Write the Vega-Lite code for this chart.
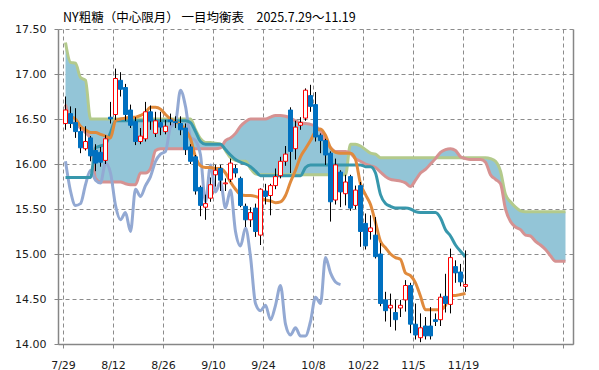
{
  "$schema": "https://vega.github.io/schema/vega-lite/v6.json",
  "width": 515,
  "height": 315,
  "autosize": {"type": "none"},
  "padding": {"left": 58, "top": 29, "right": 26, "bottom": 26},
  "background": "white",
  "config": {"view": {"stroke": null}},
  "title": {"text": "NY粗糖（中心限月）  一目均衡表　2025.7.29～11.19", "anchor": "start", "frame": "group", "dx": 5, "offset": -1, "font": "Noto Sans CJK JP", "fontSize": 12.5, "fontWeight": "normal", "color": "#000000"},
  "datasets": {
    "candles": [
      {"k":0,"o":16.45,"h":16.75,"l":16.38,"c":16.60,"tk":16.55,"kj":15.85,"ck":16.03},
      {"k":1,"o":16.56,"h":16.64,"l":16.40,"c":16.45,"tk":16.53,"kj":15.85,"ck":15.70},
      {"k":2,"o":16.46,"h":16.62,"l":16.29,"c":16.36,"tk":16.50,"kj":15.85,"ck":15.54},
      {"k":3,"o":16.36,"h":16.41,"l":16.12,"c":16.18,"tk":16.42,"kj":15.85,"ck":15.56},
      {"k":4,"o":16.17,"h":16.42,"l":16.15,"c":16.25,"tk":16.38,"kj":15.85,"ck":15.77},
      {"k":5,"o":16.29,"h":16.31,"l":16.03,"c":16.09,"tk":16.35,"kj":15.85,"ck":15.93},
      {"k":6,"o":16.15,"h":16.22,"l":15.92,"c":16.01,"tk":16.35,"kj":16.18,"ck":15.82},
      {"k":7,"o":16.13,"h":16.19,"l":15.97,"c":16.02,"tk":16.33,"kj":16.20,"ck":15.79},
      {"k":8,"o":16.04,"h":16.32,"l":16.00,"c":16.28,"tk":16.31,"kj":16.22,"ck":16.01},
      {"k":9,"o":16.52,"h":16.69,"l":16.45,"c":16.50,"tk":16.29,"kj":16.35,"ck":15.90},
      {"k":10,"o":16.55,"h":17.06,"l":16.49,"c":16.95,"tk":16.48,"kj":16.48,"ck":15.54},
      {"k":11,"o":16.93,"h":17.02,"l":16.75,"c":16.83,"tk":16.50,"kj":16.48,"ck":15.38},
      {"k":12,"o":16.85,"h":16.89,"l":16.48,"c":16.55,"tk":16.51,"kj":16.48,"ck":15.46},
      {"k":13,"o":16.60,"h":16.66,"l":16.40,"c":16.43,"tk":16.52,"kj":16.48,"ck":15.25},
      {"k":14,"o":16.47,"h":16.52,"l":16.21,"c":16.25,"tk":16.52,"kj":16.48,"ck":15.72},
      {"k":15,"o":16.25,"h":16.40,"l":16.22,"c":16.31,"tk":16.54,"kj":16.48,"ck":15.64},
      {"k":16,"o":16.28,"h":16.69,"l":16.25,"c":16.58,"tk":16.57,"kj":16.48,"ck":15.76},
      {"k":17,"o":16.58,"h":16.65,"l":16.38,"c":16.48,"tk":16.63,"kj":16.48,"ck":15.86},
      {"k":18,"o":16.34,"h":16.58,"l":16.30,"c":16.48,"tk":16.63,"kj":16.48,"ck":16.03},
      {"k":19,"o":16.46,"h":16.58,"l":16.32,"c":16.41,"tk":16.61,"kj":16.48,"ck":16.11},
      {"k":20,"o":16.36,"h":16.49,"l":16.33,"c":16.42,"tk":16.55,"kj":16.48,"ck":16.14},
      {"k":21,"o":16.49,"h":16.56,"l":16.43,"c":16.47,"tk":16.50,"kj":16.48,"ck":16.41},
      {"k":22,"o":16.47,"h":16.53,"l":16.40,"c":16.46,"tk":16.47,"kj":16.48,"ck":16.46},
      {"k":23,"o":16.45,"h":16.53,"l":16.32,"c":16.38,"tk":16.44,"kj":16.48,"ck":16.82},
      {"k":24,"o":16.40,"h":16.45,"l":16.10,"c":16.16,"tk":16.38,"kj":16.48,"ck":16.64},
      {"k":25,"o":16.19,"h":16.22,"l":16.00,"c":16.03,"tk":16.28,"kj":16.46,"ck":16.30},
      {"k":26,"o":16.08,"h":16.10,"l":15.66,"c":15.70,"tk":16.08,"kj":16.36,"ck":16.26},
      {"k":27,"o":15.74,"h":15.76,"l":15.42,"c":15.54,"tk":15.98,"kj":16.25,"ck":16.10},
      {"k":28,"o":15.52,"h":15.66,"l":15.38,"c":15.56,"tk":15.96,"kj":16.22,"ck":15.58},
      {"k":29,"o":15.62,"h":15.85,"l":15.58,"c":15.77,"tk":15.96,"kj":16.22,"ck":15.99},
      {"k":30,"o":15.88,"h":15.99,"l":15.75,"c":15.93,"tk":15.95,"kj":16.22,"ck":15.69},
      {"k":31,"o":15.95,"h":15.99,"l":15.70,"c":15.82,"tk":15.95,"kj":16.22,"ck":15.80},
      {"k":32,"o":15.78,"h":15.84,"l":15.70,"c":15.79,"tk":15.90,"kj":16.16,"ck":15.51},
      {"k":33,"o":15.83,"h":16.06,"l":15.80,"c":16.01,"tk":15.80,"kj":16.10,"ck":15.71},
      {"k":34,"o":15.95,"h":15.99,"l":15.85,"c":15.90,"tk":15.72,"kj":16.05,"ck":15.25},
      {"k":35,"o":15.84,"h":15.86,"l":15.52,"c":15.54,"tk":15.66,"kj":16.02,"ck":15.09},
      {"k":36,"o":15.53,"h":15.56,"l":15.30,"c":15.38,"tk":15.65,"kj":16.00,"ck":15.29},
      {"k":37,"o":15.38,"h":15.52,"l":15.30,"c":15.46,"tk":15.65,"kj":15.97,"ck":14.97},
      {"k":38,"o":15.51,"h":15.56,"l":15.19,"c":15.25,"tk":15.64,"kj":15.92,"ck":14.45},
      {"k":39,"o":15.21,"h":15.73,"l":15.10,"c":15.72,"tk":15.62,"kj":15.87,"ck":14.37},
      {"k":40,"o":15.70,"h":15.78,"l":15.55,"c":15.64,"tk":15.60,"kj":15.87,"ck":14.43},
      {"k":41,"o":15.65,"h":15.78,"l":15.43,"c":15.76,"tk":15.59,"kj":15.87,"ck":14.27},
      {"k":42,"o":15.76,"h":15.95,"l":15.72,"c":15.86,"tk":15.57,"kj":15.87,"ck":14.43},
      {"k":43,"o":15.87,"h":16.08,"l":15.84,"c":16.03,"tk":15.58,"kj":15.87,"ck":14.65},
      {"k":44,"o":16.03,"h":16.20,"l":15.98,"c":16.11,"tk":15.65,"kj":15.87,"ck":14.22},
      {"k":45,"o":16.60,"h":16.63,"l":15.90,"c":16.14,"tk":15.80,"kj":15.87,"ck":14.10},
      {"k":46,"o":16.17,"h":16.48,"l":16.05,"c":16.41,"tk":15.93,"kj":15.87,"ck":14.18},
      {"k":47,"o":16.43,"h":16.52,"l":16.38,"c":16.46,"tk":16.08,"kj":15.87,"ck":14.09},
      {"k":48,"o":16.51,"h":16.84,"l":16.48,"c":16.82,"tk":16.17,"kj":15.96,"ck":14.09},
      {"k":49,"o":16.76,"h":16.88,"l":16.58,"c":16.64,"tk":16.26,"kj":15.99,"ck":14.25},
      {"k":50,"o":16.66,"h":16.80,"l":16.25,"c":16.30,"tk":16.36,"kj":15.99,"ck":14.52},
      {"k":51,"o":16.32,"h":16.34,"l":16.12,"c":16.26,"tk":16.39,"kj":15.99,"ck":14.45},
      {"k":52,"o":16.26,"h":16.28,"l":15.99,"c":16.10,"tk":16.32,"kj":15.99,"ck":14.96},
      {"k":53,"o":16.12,"h":16.14,"l":15.36,"c":15.58,"tk":16.18,"kj":15.99,"ck":14.79},
      {"k":54,"o":15.60,"h":16.06,"l":15.55,"c":15.99,"tk":16.13,"kj":15.99,"ck":14.69},
      {"k":55,"o":15.91,"h":15.93,"l":15.52,"c":15.69,"tk":16.12,"kj":15.99,"ck":14.66},
      {"k":56,"o":15.67,"h":15.88,"l":15.54,"c":15.80,"tk":16.12,"kj":15.99,"ck":null},
      {"k":57,"o":15.86,"h":15.88,"l":15.48,"c":15.51,"tk":16.12,"kj":15.99,"ck":null},
      {"k":58,"o":15.54,"h":15.76,"l":15.50,"c":15.71,"tk":16.05,"kj":15.99,"ck":null},
      {"k":59,"o":15.76,"h":15.80,"l":15.08,"c":15.25,"tk":15.78,"kj":15.99,"ck":null},
      {"k":60,"o":15.34,"h":15.45,"l":15.05,"c":15.09,"tk":15.66,"kj":15.97,"ck":null},
      {"k":61,"o":15.25,"h":15.43,"l":15.16,"c":15.29,"tk":15.55,"kj":15.97,"ck":null},
      {"k":62,"o":15.21,"h":15.41,"l":14.95,"c":14.97,"tk":15.35,"kj":15.90,"ck":null},
      {"k":63,"o":15.00,"h":15.12,"l":14.42,"c":14.45,"tk":15.14,"kj":15.66,"ck":null},
      {"k":64,"o":14.49,"h":14.58,"l":14.25,"c":14.37,"tk":15.07,"kj":15.56,"ck":null},
      {"k":65,"o":14.40,"h":14.56,"l":14.19,"c":14.43,"tk":15.00,"kj":15.53,"ck":null},
      {"k":66,"o":14.35,"h":14.49,"l":14.15,"c":14.27,"tk":14.96,"kj":15.51,"ck":null},
      {"k":67,"o":14.40,"h":14.49,"l":14.30,"c":14.43,"tk":14.94,"kj":15.51,"ck":null},
      {"k":68,"o":14.49,"h":14.71,"l":14.36,"c":14.65,"tk":14.79,"kj":15.51,"ck":null},
      {"k":69,"o":14.65,"h":14.68,"l":14.12,"c":14.22,"tk":14.76,"kj":15.50,"ck":null},
      {"k":70,"o":14.22,"h":14.45,"l":14.05,"c":14.10,"tk":14.68,"kj":15.47,"ck":null},
      {"k":71,"o":14.07,"h":14.34,"l":14.02,"c":14.18,"tk":14.53,"kj":15.46,"ck":null},
      {"k":72,"o":14.20,"h":14.30,"l":14.05,"c":14.09,"tk":14.38,"kj":15.46,"ck":null},
      {"k":73,"o":14.20,"h":14.41,"l":14.05,"c":14.09,"tk":14.38,"kj":15.46,"ck":null},
      {"k":74,"o":14.27,"h":14.34,"l":14.20,"c":14.25,"tk":14.38,"kj":15.46,"ck":null},
      {"k":75,"o":14.27,"h":14.56,"l":14.20,"c":14.52,"tk":14.38,"kj":15.40,"ck":null},
      {"k":76,"o":14.53,"h":14.78,"l":14.35,"c":14.45,"tk":14.43,"kj":15.27,"ck":null},
      {"k":77,"o":14.44,"h":15.06,"l":14.34,"c":14.96,"tk":14.54,"kj":15.20,"ck":null},
      {"k":78,"o":14.86,"h":14.93,"l":14.68,"c":14.79,"tk":14.54,"kj":15.10,"ck":null},
      {"k":79,"o":14.80,"h":14.89,"l":14.64,"c":14.69,"tk":14.55,"kj":15.03,"ck":null},
      {"k":80,"o":14.64,"h":15.04,"l":14.58,"c":14.66,"tk":14.56,"kj":14.97,"ck":null}
    ],
    "cloud": [
      {"k":0,"a":16.66,"b":17.35},{"k":1,"a":16.48,"b":17.13},{"k":2,"a":16.44,"b":17.12},{"k":3,"a":16.40,"b":16.96},
      {"k":4,"a":16.35,"b":16.93},{"k":5,"a":16.28,"b":16.50},{"k":6,"a":15.84,"b":16.50},{"k":7,"a":15.80,"b":16.50},
      {"k":8,"a":15.80,"b":16.50},{"k":9,"a":15.80,"b":16.50},{"k":10,"a":15.80,"b":16.50},{"k":11,"a":15.80,"b":16.50},
      {"k":12,"a":15.78,"b":16.50},{"k":13,"a":15.77,"b":16.50},{"k":14,"a":15.77,"b":16.50},{"k":15,"a":15.90,"b":16.50},
      {"k":16,"a":15.90,"b":16.50},{"k":17,"a":15.95,"b":16.50},{"k":18,"a":16.15,"b":16.50},{"k":19,"a":16.17,"b":16.50},
      {"k":20,"a":16.17,"b":16.50},{"k":21,"a":16.17,"b":16.50},{"k":22,"a":16.17,"b":16.50},{"k":23,"a":16.17,"b":16.50},
      {"k":24,"a":16.17,"b":16.50},{"k":25,"a":16.17,"b":16.50},{"k":26,"a":16.17,"b":16.38},{"k":27,"a":16.17,"b":16.28},
      {"k":28,"a":16.17,"b":16.24},{"k":29,"a":16.17,"b":16.24},{"k":30,"a":16.17,"b":16.23},{"k":31,"a":16.18,"b":16.22},
      {"k":32,"a":16.26,"b":16.15},{"k":33,"a":16.29,"b":16.07},{"k":34,"a":16.34,"b":16.04},{"k":35,"a":16.42,"b":16.03},
      {"k":36,"a":16.47,"b":16.03},{"k":37,"a":16.50,"b":15.95},{"k":38,"a":16.50,"b":15.89},{"k":39,"a":16.50,"b":15.88},
      {"k":40,"a":16.50,"b":15.88},{"k":41,"a":16.52,"b":15.88},{"k":42,"a":16.54,"b":15.88},{"k":43,"a":16.54,"b":15.88},
      {"k":44,"a":16.53,"b":15.88},{"k":45,"a":16.51,"b":15.88},{"k":46,"a":16.48,"b":15.88},{"k":47,"a":16.46,"b":15.88},
      {"k":48,"a":16.45,"b":15.88},{"k":49,"a":16.44,"b":15.88},{"k":50,"a":16.42,"b":15.88},{"k":51,"a":16.37,"b":15.88},
      {"k":52,"a":16.26,"b":15.88},{"k":53,"a":16.18,"b":15.88},{"k":54,"a":16.14,"b":15.88},{"k":55,"a":16.14,"b":15.88},
      {"k":56,"a":16.14,"b":15.88},{"k":57,"a":16.12,"b":16.22},{"k":58,"a":16.06,"b":16.22},{"k":59,"a":16.03,"b":16.20},
      {"k":60,"a":16.00,"b":16.16},{"k":61,"a":15.98,"b":16.12},{"k":62,"a":15.96,"b":16.11},{"k":63,"a":15.91,"b":16.07},
      {"k":64,"a":15.86,"b":16.07},{"k":65,"a":15.83,"b":16.07},{"k":66,"a":15.82,"b":16.07},{"k":67,"a":15.81,"b":16.07},
      {"k":68,"a":15.79,"b":16.07},{"k":69,"a":15.75,"b":16.07},{"k":70,"a":15.82,"b":16.07},{"k":71,"a":15.90,"b":16.07},
      {"k":72,"a":15.94,"b":16.07},{"k":73,"a":16.00,"b":16.07},{"k":74,"a":16.06,"b":16.07},{"k":75,"a":16.13,"b":16.07},
      {"k":76,"a":16.16,"b":16.07},{"k":77,"a":16.17,"b":16.07},{"k":78,"a":16.15,"b":16.07},{"k":79,"a":16.08,"b":16.07},
      {"k":80,"a":16.06,"b":16.07},{"k":81,"a":16.05,"b":16.07},{"k":82,"a":16.05,"b":16.07},{"k":83,"a":16.05,"b":16.07},
      {"k":84,"a":16.02,"b":16.07},{"k":85,"a":15.88,"b":16.06},{"k":86,"a":15.83,"b":16.03},{"k":87,"a":15.78,"b":15.92},
      {"k":88,"a":15.50,"b":15.66},{"k":89,"a":15.36,"b":15.58},{"k":90,"a":15.30,"b":15.52},{"k":91,"a":15.27,"b":15.48},
      {"k":92,"a":15.21,"b":15.47},{"k":93,"a":15.20,"b":15.47},{"k":94,"a":15.14,"b":15.47},{"k":95,"a":15.10,"b":15.47},
      {"k":96,"a":15.05,"b":15.47},{"k":97,"a":14.98,"b":15.47},{"k":98,"a":14.92,"b":15.47},{"k":99,"a":14.92,"b":15.47},
      {"k":100,"a":14.92,"b":15.47}
    ]
  },
  "encoding": {
    "x": {"field": "k", "type": "quantitative",
      "scale": {"domain": [-0.5, 100.5], "nice": false, "zero": false},
      "axis": {"values": [-0.5, 9.5, 19.5, 29.5, 39.5, 49.5, 59.5, 69.5, 79.5, 89.5, 99.5],
        "labelExpr": "['7/29','8/12','8/26','9/10','9/24','10/8','10/22','11/5','11/19','',''][round((datum.value + 0.5) / 10)]",
        "title": null, "grid": true, "gridDash": [4, 3], "gridColor": "#8c8c8c", "gridWidth": 1,
        "domainColor": "#868686", "domainWidth": 1.5, "tickColor": "#868686", "tickSize": 4,
        "labelFont": "DejaVu Sans", "labelFontSize": 11, "labelColor": "#1a1a1a", "labelPadding": 11, "labelFlush": false, "labelOverlap": false}
    }
  },
  "layer": [
    {
      "data": {"name": "cloud"},
      "mark": {"type": "area", "interpolate": "monotone", "color": "#93C5D7", "opacity": 1},
      "encoding": {
        "y": {"field": "a", "type": "quantitative", "scale": {"domain": [14, 17.5], "nice": false, "zero": false},
          "axis": {"orient": "left", "values": [14, 14.5, 15, 15.5, 16, 16.5, 17, 17.5], "format": ".2f", "title": null,
            "grid": true, "gridDash": [4, 3], "gridColor": "#8c8c8c", "gridWidth": 1,
            "domainColor": "#868686", "domainWidth": 1.5, "tickColor": "#868686", "tickSize": 4,
            "labelFont": "DejaVu Sans", "labelFontSize": 11, "labelColor": "#1a1a1a", "labelPadding": 8}},
        "y2": {"field": "b"}
      }
    },
    {
      "data": {"name": "cloud"},
      "mark": {"type": "line", "interpolate": "monotone", "color": "#B3CA8C", "strokeWidth": 3},
      "encoding": {
        "y": {"field": "b", "type": "quantitative", "scale": {"domain": [14, 17.5], "nice": false, "zero": false},
          "axis": {"orient": "right", "labels": false, "ticks": false, "grid": false, "domainColor": "#868686", "domainWidth": 1.5, "title": null}}
      }
    },
    {
      "data": {"name": "cloud"},
      "mark": {"type": "line", "interpolate": "monotone", "color": "#D69292", "strokeWidth": 3},
      "encoding": {
        "y": {"field": "a", "type": "quantitative", "scale": {"domain": [14, 17.5], "nice": false, "zero": false}, "axis": null}
      }
    },
    {
      "data": {"name": "candles"},
      "mark": {"type": "line", "interpolate": "monotone", "color": "#93A9D3", "strokeWidth": 3},
      "encoding": {
        "y": {"field": "ck", "type": "quantitative", "scale": {"domain": [14, 17.5], "nice": false, "zero": false}, "axis": null}
      }
    },
    {
      "data": {"name": "candles"},
      "mark": {"type": "line", "interpolate": "monotone", "color": "#3797AC", "strokeWidth": 3},
      "encoding": {
        "y": {"field": "kj", "type": "quantitative", "scale": {"domain": [14, 17.5], "nice": false, "zero": false}, "axis": null}
      }
    },
    {
      "data": {"name": "candles"},
      "mark": {"type": "line", "interpolate": "monotone", "color": "#E08A3C", "strokeWidth": 3},
      "encoding": {
        "y": {"field": "tk", "type": "quantitative", "scale": {"domain": [14, 17.5], "nice": false, "zero": false}, "axis": null}
      }
    },
    {
      "data": {"name": "candles"},
      "mark": {"type": "rule", "color": "#000000", "strokeWidth": 1},
      "encoding": {
        "y": {"field": "l", "type": "quantitative", "scale": {"domain": [14, 17.5], "nice": false, "zero": false}, "axis": null},
        "y2": {"field": "h"}
      }
    },
    {
      "data": {"name": "candles"},
      "mark": {"type": "bar", "size": 4, "strokeWidth": 1},
      "encoding": {
        "y": {"field": "o", "type": "quantitative", "scale": {"domain": [14, 17.5], "nice": false, "zero": false}, "axis": null},
        "y2": {"field": "c"},
        "fill": {"condition": {"test": "datum.c > datum.o", "value": "#ffffff"}, "value": "#0070C0"},
        "stroke": {"condition": {"test": "datum.c > datum.o", "value": "#ff0000"}, "value": "#0070C0"}
      }
    }
  ],
  "resolve": {"axis": {"y": "independent"}}
}
